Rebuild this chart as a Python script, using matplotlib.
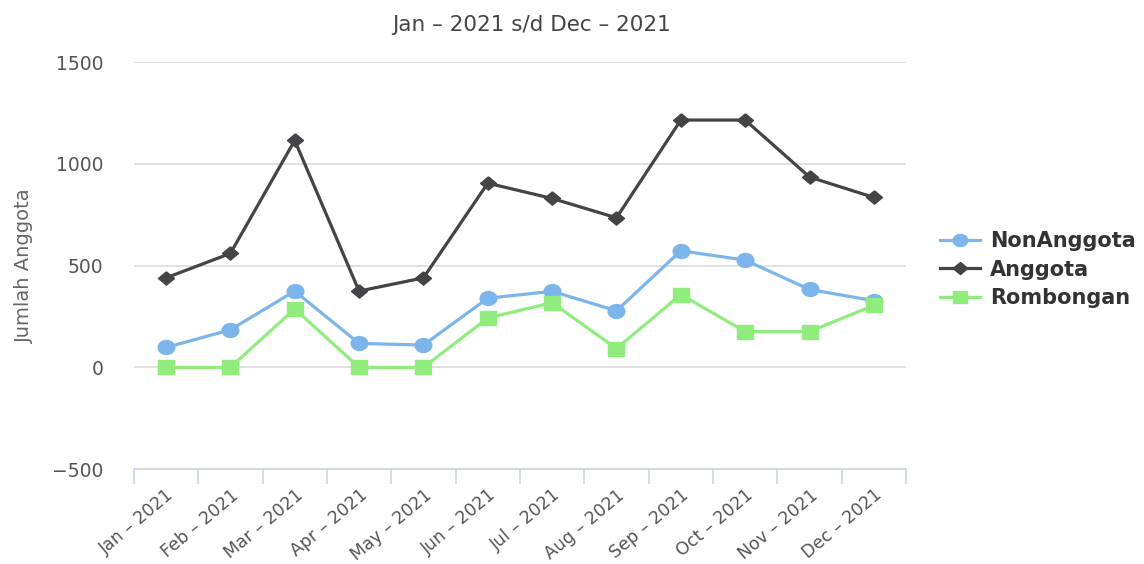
import numpy as np
import matplotlib.pyplot as plt
from matplotlib.path import Path
from matplotlib.transforms import Affine2D

# data
months = ['Jan – 2021', 'Feb – 2021', 'Mar – 2021', 'Apr – 2021', 'May – 2021', 'Jun – 2021',
          'Jul – 2021', 'Aug – 2021', 'Sep – 2021', 'Oct – 2021', 'Nov – 2021', 'Dec – 2021']
non_anggota = [98, 185, 375, 118, 110, 340, 374, 278, 573, 527, 383, 328]
anggota = [440, 560, 1115, 375, 440, 905, 830, 735, 1215, 1215, 935, 835]
rombongan = [0, 0, 288, 0, 0, 243, 318, 93, 358, 176, 176, 305]

# the reference looks a bit stretched sideways, so widen the markers
stretch = Affine2D().scale(1.2, 1.0)
m_circle = Path.unit_circle().transformed(stretch)
m_square = Path.unit_rectangle().transformed(Affine2D().translate(-0.5, -0.5).scale(1.2, 1.0))
m_diamond = Path([(0, 1), (1, 0), (0, -1), (-1, 0), (0, 1)]).transformed(stretch)

fig = plt.figure(figsize=(11.44, 5.64), dpi=100)
ax = fig.add_axes([0.117, 0.168, 0.675, 0.722])

x = np.arange(len(months))
ax.plot(x, non_anggota, color='#7cb5ec', lw=2.3, marker=m_circle, ms=12, label='NonAnggota', zorder=3)
ax.plot(x, anggota, color='#434348', lw=2.3, marker=m_diamond, ms=11.5, label='Anggota', zorder=4)
ax.plot(x, rombongan, color='#90ed7d', lw=2.3, marker=m_square, ms=11.5, label='Rombongan', zorder=3)

ax.set_xlim(-0.5, len(months) - 0.5)
ax.set_ylim(-500, 1500)
ax.set_yticks([-500, 0, 500, 1000, 1500])
ax.set_yticklabels(['−500', '0', '500', '1000', '1500'])
ax.grid(axis='y', color='#dcdcdc', lw=1.2)
ax.set_axisbelow(True)

# tick marks on category boundaries, labels on centers
ax.set_xticks(np.arange(-0.5, len(months), 1.0))
ax.set_xticklabels([])
ax.set_xticks(x, minor=True)
ax.set_xticklabels(months, minor=True, rotation=40, ha='right', va='top',
                   rotation_mode='anchor', fontsize=12.5, color='#555555')
ax.tick_params(axis='x', which='major', length=11, width=1.2, color='#ccd6eb', direction='out')
ax.tick_params(axis='x', which='minor', length=0, pad=12)
ax.tick_params(axis='y', length=0, labelsize=13.5, labelcolor='#555555', pad=22)

for s in ['top', 'right', 'left']:
    ax.spines[s].set_visible(False)
ax.spines['bottom'].set_color('#ccd6eb')
ax.spines['bottom'].set_linewidth(1.2)

ax.set_ylabel('Jumlah Anggota', fontsize=14, color='#666666')
ax.yaxis.set_label_coords(-0.13, 0.5)

fig.text(0.465, 0.955, 'Jan – 2021 s/d Dec – 2021', ha='center', va='center',
         fontsize=15.5, color='#444444')

leg = ax.legend(loc='center left', bbox_to_anchor=(1.02, 0.49), frameon=False,
                prop={'weight': 'bold', 'size': 15}, handlelength=1.9,
                labelspacing=0.4, handletextpad=0.5)
for t in leg.get_texts():
    t.set_color('#333333')
for h in leg.legend_handles:
    h.set_markersize(10.5)

fig.savefig('out.png', dpi=100)
